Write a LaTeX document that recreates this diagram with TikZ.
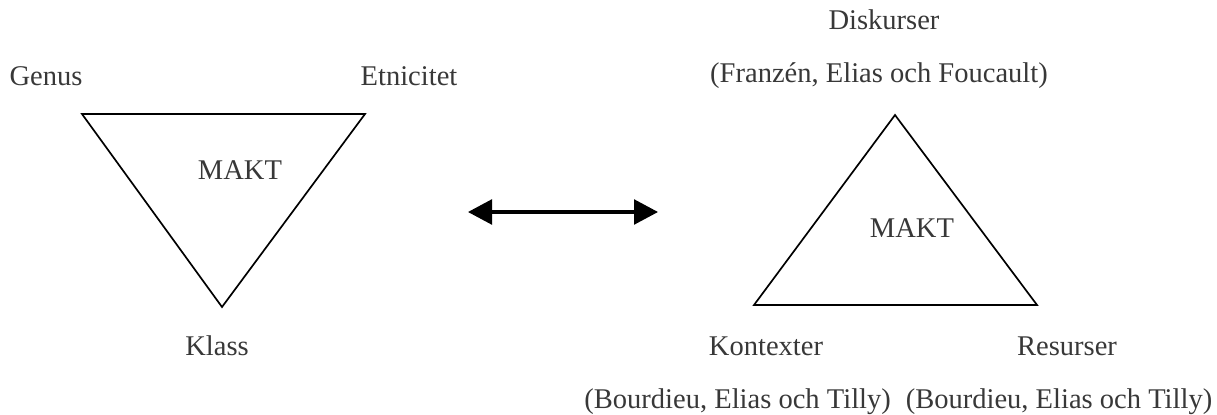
\documentclass[tikz,border=0pt]{standalone}
\usepackage{fontspec}
\setmainfont{Liberation Serif}
\usepackage{tikz}
\usetikzlibrary{arrows.meta,positioning,calc}
\definecolor{labgray}{gray}{0.22}
\tikzstyle{lab}=[font=\fontsize{20.3}{23}\selectfont, text=labgray, inner sep=0pt]
\tikzstyle{tri}=[draw=black, line width=1.2pt, line join=miter]
\tikzstyle{dbl}=[line width=2.2pt, {Triangle[length=0.6cm,width=0.62cm]}-{Triangle[length=0.6cm,width=0.62cm]}]

\begin{document}
\begin{tikzpicture}
        \useasboundingbox (0,0) rectangle (30.425,10.35);
        %
        \coordinate (genusC) at (2.05,7.5);
        \coordinate (etnC) at (9.125,7.5);
        \coordinate (klassC) at (5.55,2.675);
        \draw [tri] (genusC) -- (etnC) -- (klassC) -- cycle;
        \node at (1.15,8.45) [lab] (genus) {Genus};
        \node at (10.225,8.45) [lab] (etn) {Etnicitet};
        \node at (6.0,6.1) [lab] (makt1) {MAKT};
        \node at (5.425,1.7) [lab] (klass) {Klass};
        %
        \coordinate (arrL) at (11.7,5.05);
        \coordinate (arrR) at (16.45,5.05);
        \draw [dbl] (arrL) -- (arrR);
        %
        \coordinate (diskC) at (22.375,7.475);
        \coordinate (kontC) at (18.85,2.725);
        \coordinate (resC) at (25.925,2.725);
        \draw [tri] (diskC) -- (resC) -- (kontC) -- cycle;
        \node at (22.1,9.85) [lab] (disk) {Diskurser};
        \node at (21.975,8.45) [lab] (diskref) {(Franzén, Elias och Foucault)};
        \node at (22.8,4.65) [lab] (makt2) {MAKT};
        \node at (19.15,1.7) [lab] (kont) {Kontexter};
        \node at (26.675,1.7) [lab] (res) {Resurser};
        \node at (18.44,0.3) [lab] (kontref) {(Bourdieu, Elias och Tilly)};
        \node at (26.475,0.3) [lab] (resref) {(Bourdieu, Elias och Tilly)};
      %
      \end{tikzpicture}
\end{document}
